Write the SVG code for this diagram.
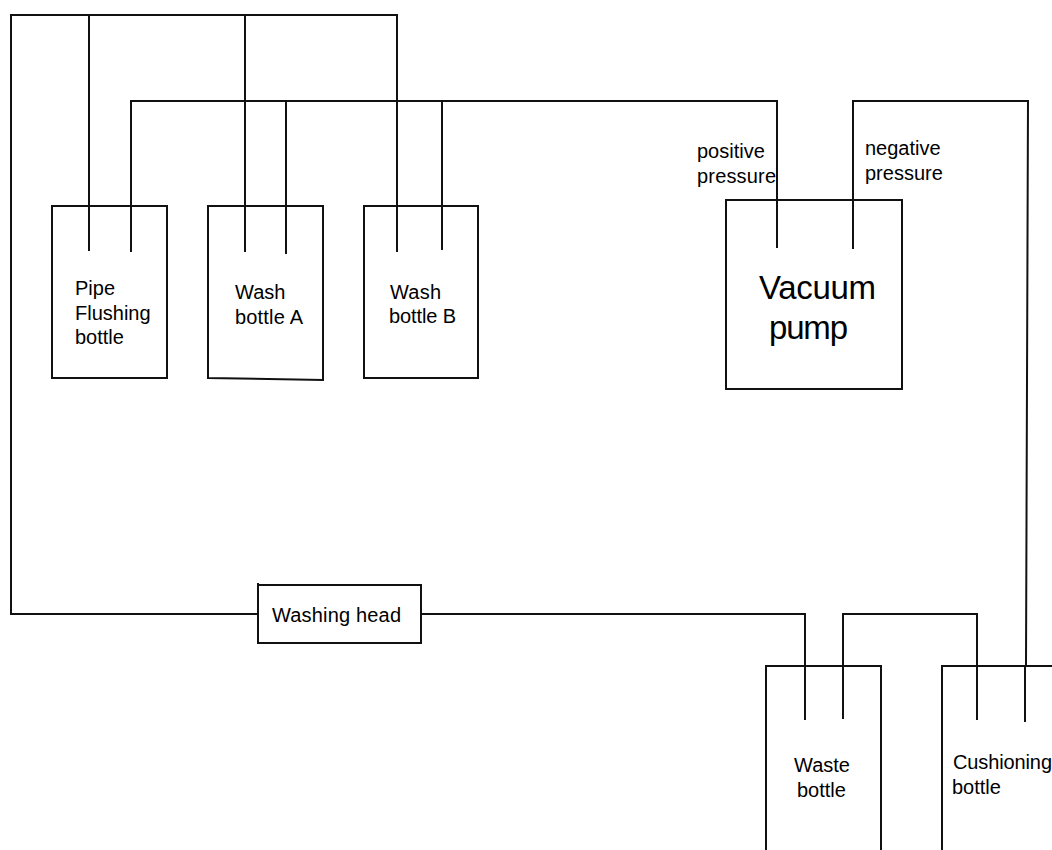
<svg xmlns="http://www.w3.org/2000/svg" width="1052" height="850" viewBox="0 0 1052 850">
<style>
.b{fill:none;stroke:#111;stroke-width:2}
.c{fill:none;stroke:#111;stroke-width:2}
text{font-family:"Liberation Sans",Arial,sans-serif;font-size:20px;fill:#000}
.big{font-size:33px}
</style>
<rect width="1052" height="850" fill="#fff"/>
<g id="connectors">
<path class="c" d="M89 251V15M245 252V15M397 252V15H11V614H258"/>
<path class="c" d="M131 252V101H777V248M286 254V101M442 250V101"/>
<path class="c" d="M853 249V101H1028L1026 665M1025 722V665"/>
<path class="c" d="M421 614H805V720"/>
<path class="c" d="M843 719V614H977V720"/>
</g>
<g id="pipe-flushing"><rect class="b" x="52" y="206" width="115" height="172"/><text x="75" y="295">Pipe</text><text x="75" y="320">Flushing</text><text x="75" y="344">bottle</text></g>
<g id="wash-a"><path class="b" d="M208 206H323V380L208 378Z"/><text x="235" y="299">Wash</text><text x="235" y="324" textLength="68">bottle A</text></g>
<g id="wash-b"><rect class="b" x="364" y="206" width="114" height="172"/><text x="390" y="299" textLength="51">Wash</text><text x="389" y="323" textLength="67">bottle B</text></g>
<g id="vacuum-pump"><rect class="b" x="726" y="200" width="176" height="189"/><text class="big" x="759" y="299" textLength="117">Vacuum</text><text class="big" x="769" y="339" textLength="79">pump</text></g>
<g id="labels"><text x="697" y="158">positive</text><text x="697" y="183" textLength="79">pressure</text><text x="865" y="155">negative</text><text x="865" y="180">pressure</text></g>
<g id="washing-head"><path class="b" d="M258 583V643H421V585H258"/><text x="272" y="622" textLength="129">Washing head</text></g>
<g id="waste"><path class="b" d="M766 850V666H881V850"/><text x="794" y="772">Waste</text><text x="797" y="797">bottle</text></g>
<g id="cushioning"><path class="b" d="M942 850V666H1052"/><text x="953" y="769" textLength="99">Cushioning</text><text x="952" y="794">bottle</text></g>
</svg>
